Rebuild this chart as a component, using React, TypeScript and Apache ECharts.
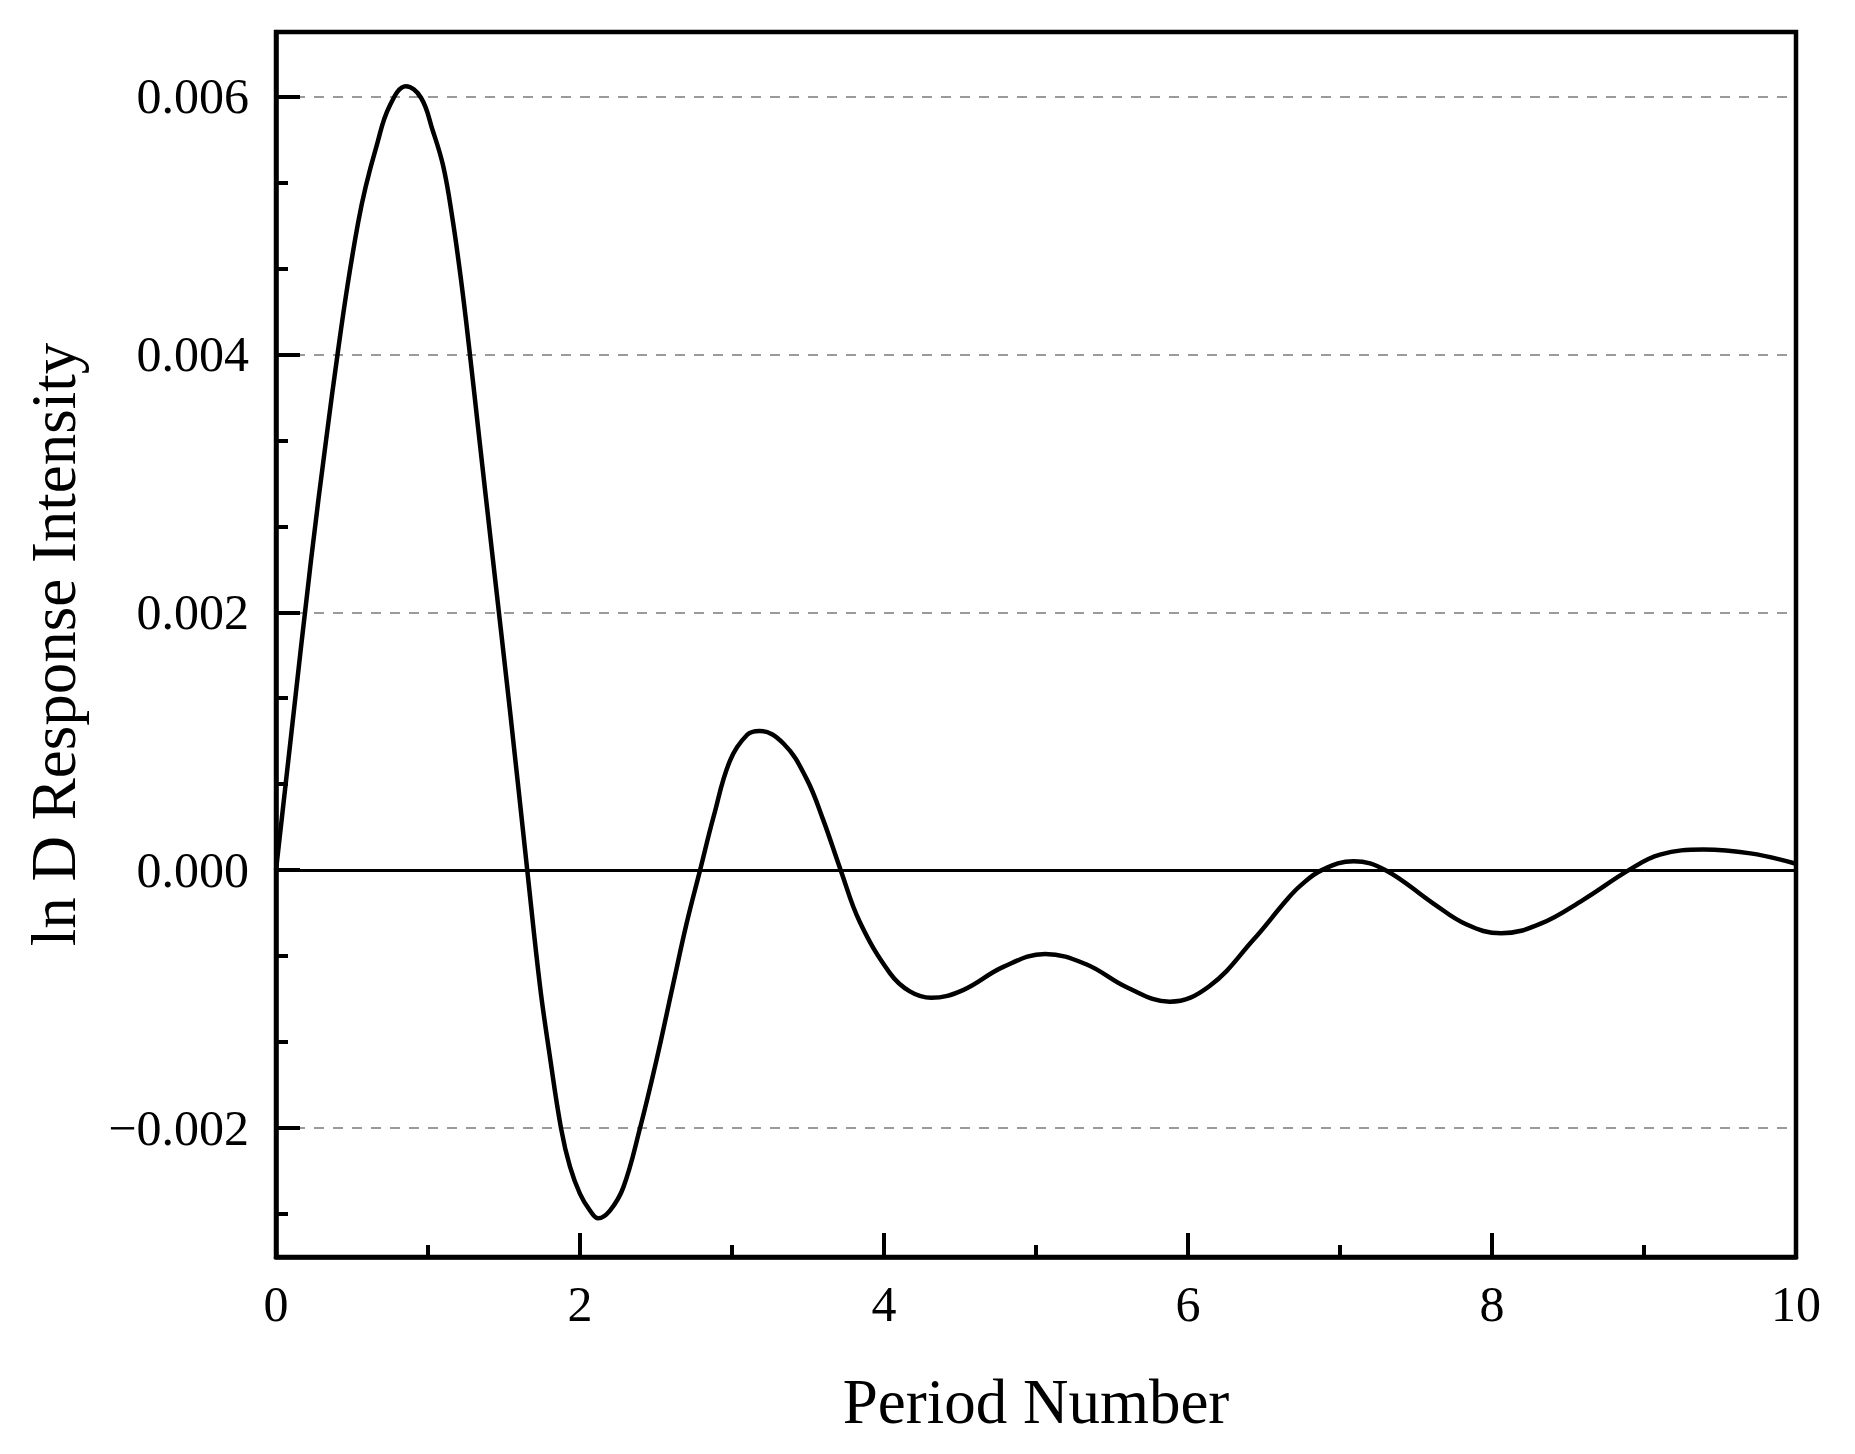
import React, { useEffect, useRef } from "react";
import * as echarts from "echarts";

const periods = [
  0, 0.1, 0.23, 0.33, 0.406, 0.47, 0.54, 0.59, 0.66, 0.745, 0.855, 0.954, 1.03, 1.1, 1.16,
  1.217, 1.27, 1.34, 1.425, 1.54, 1.653, 1.737, 1.8, 1.875, 1.934, 2.0, 2.066, 2.12, 2.197,
  2.285, 2.395, 2.5, 2.61, 2.7, 2.79, 2.88, 2.987, 3.1, 3.18, 3.34, 3.49, 3.6, 3.715, 3.84,
  4.04, 4.17, 4.31, 4.52, 4.785, 5.06, 5.33, 5.6, 5.88, 6.14, 6.43, 6.65, 6.74,
  6.88, 7.09, 7.3, 7.61, 7.83, 8.06, 8.32, 8.6, 8.9, 9.105, 9.39, 9.7, 10.0,
];

const responses = [
  0, 0.00105, 0.0024, 0.00334, 0.00401, 0.00453, 0.00502, 0.0053, 0.00561, 0.00592, 0.00608,
  0.00599, 0.00574, 0.00546, 0.00506, 0.00458, 0.00406, 0.00332, 0.00243, 0.00123, 0, -0.0009,
  -0.00143, -0.002, -0.0023, -0.00251, -0.00264, -0.0027, -0.00264, -0.00246, -0.002, -0.00149,
  -0.0009, -0.00042, 0, 0.00042, 0.00085, 0.00105, 0.00108, 0.00098, 0.00071, 0.00039, 0,
  -0.0004, -0.0008, -0.00094, -0.00099, -0.00093, -0.00075, -0.00065,
  -0.00073, -0.00091, -0.00102, -0.0009, -0.00054, -0.00023, -0.00012, 0, 0.00007, 0,
  -0.000255, -0.00042, -0.00049, -0.000415, -0.00023, 0, 0.00012, 0.00016, 0.00013, 0.00005,
];

const yMajorTicks = [-0.002, 0, 0.002, 0.004, 0.006];
const yMinorTicks = [
  -0.0026667, -0.0013333, -0.0006667, 0.0006667, 0.0013333, 0.0026667, 0.0033333, 0.0046667,
  0.0053333,
];
const yMin = -0.003;
const yMax = 0.0065;
const xMin = 0;
const xMax = 10;
const xInterval = 2;

const FONT = "'Liberation Serif', 'Times New Roman', serif";

function fmtY(v: number): string {
  const s = Math.abs(v).toFixed(3);
  return v < -1e-12 ? "\u2212" + s : s;
}

export default function App() {
  const ref = useRef<HTMLDivElement>(null);

  useEffect(() => {
    if (!ref.current) return;
    const chart = echarts.init(ref.current, null, { renderer: "svg" });
    const data = periods.map((p, i) => [p, responses[i]]);

    chart.setOption({
      animation: false,
      backgroundColor: "#ffffff",
      grid: {
        left: 276,
        right: 59,
        top: 32,
        bottom: 197,
        show: true,
        borderColor: "#000",
        borderWidth: 4.5,
        containLabel: false,
        outerBoundsMode: "none",
      },
      xAxis: {
        type: "value",
        min: xMin,
        max: xMax,
        interval: xInterval,
        name: "Period Number",
        nameLocation: "middle",
        nameGap: 113,
        nameTextStyle: { fontFamily: FONT, fontSize: 63, color: "#000" },
        axisLine: { show: true, onZero: false, lineStyle: { color: "#000", width: 4.5 } },
        axisTick: { show: true, inside: true, length: 24, lineStyle: { color: "#000", width: 4 } },
        minorTick: { show: true, splitNumber: 2, length: 12, lineStyle: { color: "#000", width: 4 } },
        axisLabel: { margin: 22, fontFamily: FONT, fontSize: 50, color: "#000" },
        splitLine: { show: false },
      },
      yAxis: [
        {
          type: "value",
          min: yMin,
          max: yMax,
          position: "left",
          name: "ln D Response Intensity",
          nameLocation: "middle",
          nameGap: 191,
          nameTextStyle: { fontFamily: FONT, fontSize: 63, color: "#000" },
          axisLine: { show: true, onZero: false, lineStyle: { color: "#000", width: 4.5 } },
          axisTick: {
            show: true,
            inside: true,
            length: 24,
            customValues: yMajorTicks,
            lineStyle: { color: "#000", width: 4 },
          },
          axisLabel: {
            margin: 27,
            customValues: yMajorTicks,
            formatter: (v: number) => fmtY(v),
            fontFamily: FONT,
            fontSize: 50,
            color: "#000",
          },
          splitLine: {
            show: true,
            lineStyle: { color: "#9a9a9a", width: 2, type: [10, 9] },
          },
        },
        {
          type: "value",
          min: yMin,
          max: yMax,
          position: "left",
          axisLine: { show: false, onZero: false },
          axisTick: {
            show: true,
            inside: true,
            length: 12,
            customValues: yMinorTicks,
            lineStyle: { color: "#000", width: 4 },
          },
          axisLabel: { show: false },
          splitLine: { show: false },
        },
      ],
      series: [
        {
          type: "line",
          data,
          xAxisIndex: 0,
          yAxisIndex: 0,
          smooth: 0.4,
          symbol: "none",
          lineStyle: { color: "#000", width: 4.5 },
          markLine: {
            silent: true,
            symbol: ["none", "none"],
            label: { show: false },
            lineStyle: { color: "#000", width: 3, type: "solid" },
            data: [{ yAxis: 0 }],
          },
          z: 3,
        },
      ],
    });

    return () => chart.dispose();
  }, []);

  return (
    <div
      ref={ref}
      style={{ position: "fixed", left: 0, top: 0, width: 1855, height: 1454, background: "#fff" }}
    />
  );
}
